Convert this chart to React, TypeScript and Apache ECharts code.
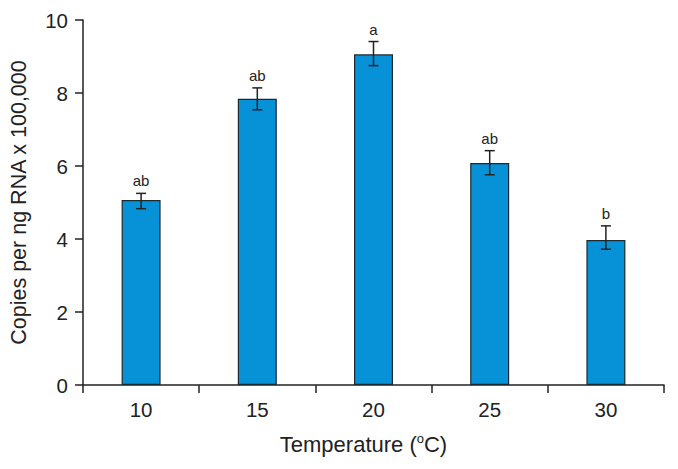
import React, { useEffect, useRef } from "react";
import * as echarts from "echarts";

const categories = ["10", "15", "20", "25", "30"];
const means = [5.07, 7.84, 9.06, 6.08, 3.97];
const errLow = [4.83, 7.54, 8.75, 5.76, 3.72];
const errHigh = [5.25, 8.14, 9.41, 6.42, 4.36];
const sigLetters = ["ab", "ab", "a", "ab", "b"];

const FONT = "Liberation Sans, Arial, sans-serif";
const INK = "#222222";

export default function App() {
  const ref = useRef<HTMLDivElement>(null);
  useEffect(() => {
    if (!ref.current) return;
    document.body.style.margin = "0";
    const chart = echarts.init(ref.current, undefined, { renderer: "svg" });
    const errData = categories.map((_, i) => [i, errLow[i], errHigh[i]]);
    chart.setOption({
      animation: false,
      backgroundColor: "#ffffff",
      grid: { left: 82, right: 14, top: 20, bottom: 84, containLabel: false },
      xAxis: {
        type: "category",
        data: categories,
        boundaryGap: true,
        axisLine: { lineStyle: { color: INK, width: 1.5 } },
        axisTick: { show: true, length: 8, lineStyle: { color: INK, width: 1.5 } },
        axisLabel: { fontSize: 20.5, color: INK, fontFamily: FONT, margin: 14 },
        name: "Temperature ({sup|o}C)",
        nameLocation: "middle",
        nameGap: 47,
        nameTextStyle: {
          fontSize: 22,
          color: INK,
          fontFamily: FONT,
          padding: [0, 20, 0, 0],
          rich: {
            sup: { fontSize: 13, color: INK, fontFamily: FONT, verticalAlign: "top", padding: [0, 0, 12, 0] },
          },
        },
      },
      yAxis: {
        type: "value",
        min: 0,
        max: 10,
        interval: 2,
        splitLine: { show: false },
        axisLine: { show: true, lineStyle: { color: INK, width: 1.5 } },
        axisTick: { show: true, length: 8, lineStyle: { color: INK, width: 1.5 } },
        axisLabel: { fontSize: 20.5, color: INK, fontFamily: FONT, margin: 15 },
        name: "Copies per ng RNA x 100,000",
        nameLocation: "middle",
        nameGap: 53,
        nameTextStyle: { fontSize: 21.5, color: INK, fontFamily: FONT },
      },
      series: [
        {
          type: "bar",
          data: means,
          barWidth: 39,
          itemStyle: { color: "#0791d7", borderColor: "#1c2a30", borderWidth: 1.2 },
          z: 2,
        },
        {
          type: "custom",
          data: errData,
          encode: { x: 0, y: [1, 2] },
          z: 3,
          renderItem: (params: any, api: any) => {
            const i = api.value(0);
            const lo = api.coord([i, api.value(1)]);
            const hi = api.coord([i, api.value(2)]);
            const x = hi[0];
            const half = 5;
            const ls = { stroke: INK, lineWidth: 1.5 };
            return {
              type: "group",
              children: [
                { type: "line", shape: { x1: x, y1: hi[1], x2: x, y2: lo[1] }, style: ls },
                { type: "line", shape: { x1: x - half, y1: hi[1], x2: x + half, y2: hi[1] }, style: ls },
                { type: "line", shape: { x1: x - half, y1: lo[1], x2: x + half, y2: lo[1] }, style: ls },
                {
                  type: "text",
                  x: x,
                  y: hi[1] - 5,
                  style: {
                    text: sigLetters[i],
                    fill: INK,
                    fontSize: 15,
                    fontFamily: FONT,
                    align: "center",
                    verticalAlign: "bottom",
                  },
                },
              ],
            };
          },
        },
      ],
    });
    return () => chart.dispose();
  }, []);
  return <div ref={ref} style={{ width: 678, height: 469 }} />;
}
